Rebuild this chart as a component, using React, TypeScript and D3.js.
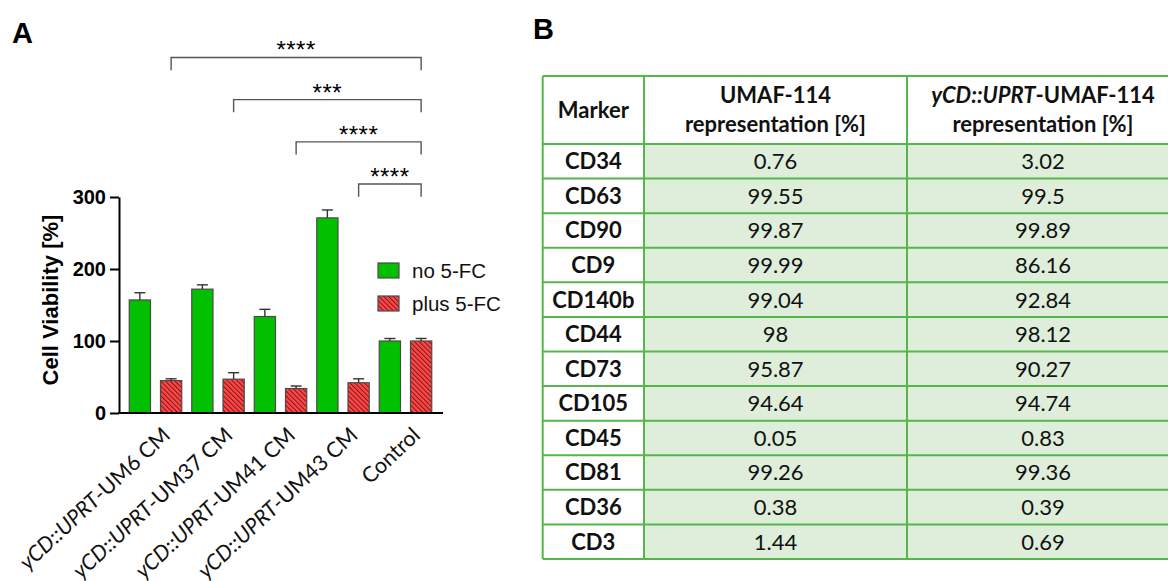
import * as d3 from "d3";
import { useEffect, useRef } from "react";

// panel A: cell viability
const categories = [
  "yCD::UPRT-UM6 CM",
  "yCD::UPRT-UM37 CM",
  "yCD::UPRT-UM41 CM",
  "yCD::UPRT-UM43 CM",
  "Control",
];
const seriesNames = ["no 5-FC", "plus 5-FC"];
const noFc = [157, 172, 134, 271, 100];
const noFcErr = [10, 6, 10, 11, 3.5];
const plusFc = [45, 47, 34, 42, 100];
const plusFcErr = [2.5, 9, 3.5, 5.5, 3.5];
const yTicks = [0, 100, 200, 300];
const sigFrom = [0, 1, 2, 3];
const sigLabels = ["****", "***", "****", "****"];

// panel B: marker table
const markers = ["CD34", "CD63", "CD90", "CD9", "CD140b", "CD44", "CD73", "CD105", "CD45", "CD81", "CD36", "CD3"];
const umafValues = [0.76, 99.55, 99.87, 99.99, 99.04, 98, 95.87, 94.64, 0.05, 99.26, 0.38, 1.44];
const ycdValues = [3.02, 99.5, 99.89, 86.16, 92.84, 98.12, 90.27, 94.74, 0.83, 99.36, 0.39, 0.69];

const arial = "'Liberation Sans', Arial, sans-serif";
const calibri = "Lato, 'Open Sans', sans-serif";

export default function App() {
  const ref = useRef<SVGSVGElement | null>(null);

  useEffect(() => {
    if (!ref.current) return;
    const svg = d3.select(ref.current);
    svg.selectAll("*").remove();

    const defs = svg.append("defs");
    const pat = defs
      .append("pattern")
      .attr("id", "hatch")
      .attr("patternUnits", "userSpaceOnUse")
      .attr("width", 3.4)
      .attr("height", 3.4)
      .attr("patternTransform", "rotate(-45)");
    pat.append("rect").attr("width", 3.4).attr("height", 3.4).attr("fill", "#ff4646");
    pat.append("line").attr("x1", 0.5).attr("x2", 0.5).attr("y1", 0).attr("y2", 3.4)
      .attr("stroke", "#6b1414").attr("stroke-width", 0.9);

    // ---------- panel A ----------
    const y = d3.scaleLinear().domain([0, 300]).range([413, 197]);
    const x0 = d3.scaleBand<string>().domain(categories).range([124.25, 436.75]).padding(0);
    const x1 = d3
      .scaleBand<string>()
      .domain(seriesNames)
      .range([0, x0.bandwidth()])
      .paddingInner(0.32)
      .paddingOuter(0.16);

    const series = [
      { name: seriesNames[0], values: noFc, errs: noFcErr, fill: "#00c000" },
      { name: seriesNames[1], values: plusFc, errs: plusFcErr, fill: "url(#hatch)" },
    ];

    const gA = svg.append("g");
    gA.append("text").attr("x", 12).attr("y", 43).text("A")
      .style("font-family", arial).style("font-weight", "bold").style("font-size", "29px");

    series.forEach((s) => {
      categories.forEach((c, i) => {
        const bx = x0(c)! + x1(s.name)!;
        const bw = x1.bandwidth();
        const v = s.values[i];
        gA.append("rect")
          .attr("x", bx).attr("y", y(v)).attr("width", bw).attr("height", y(0) - y(v))
          .attr("fill", s.fill).attr("stroke", "#4a4a4a").attr("stroke-width", 1.2);
        const cx = bx + bw / 2;
        const top = y(v + s.errs[i]);
        gA.append("line").attr("x1", cx).attr("x2", cx).attr("y1", y(v)).attr("y2", top)
          .attr("stroke", "#333").attr("stroke-width", 1.4);
        gA.append("line").attr("x1", cx - 5.5).attr("x2", cx + 5.5).attr("y1", top).attr("y2", top)
          .attr("stroke", "#333").attr("stroke-width", 1.4);
      });
    });

    // axes
    const yAxis = gA.append("g").attr("transform", "translate(119,0)")
      .call(d3.axisLeft(y).tickValues(yTicks).tickSize(9).tickSizeOuter(0).tickPadding(4));
    yAxis.select(".domain").attr("stroke", "#000").attr("stroke-width", 2);
    yAxis.selectAll(".tick line").attr("stroke", "#000").attr("stroke-width", 2);
    yAxis.selectAll(".tick text")
      .style("font-family", arial).style("font-weight", "bold").style("font-size", "20px").attr("fill", "#000");
    gA.append("line").attr("x1", 118).attr("x2", 443).attr("y1", y(0)).attr("y2", y(0))
      .attr("stroke", "#000").attr("stroke-width", 2);

    gA.append("text")
      .attr("transform", "translate(50,300) rotate(-90)")
      .attr("text-anchor", "middle").attr("dominant-baseline", "central")
      .style("font-family", arial).style("font-weight", "bold").style("font-size", "22px")
      .text("Cell Viability [%]");

    // x labels
    categories.forEach((c) => {
      const cx = x0(c)! + x0.bandwidth() / 2;
      const t = gA.append("text")
        .attr("transform", `translate(${cx + 16},${y(0) + 24}) rotate(-43)`)
        .attr("text-anchor", "end")
        .style("font-family", calibri).style("font-size", "21.5px").attr("fill", "#111");
      const k = c.indexOf("-");
      if (k > 0) {
        t.append("tspan").style("font-style", "italic").text(c.slice(0, k));
        t.append("tspan").text(c.slice(k));
      } else {
        t.text(c);
      }
    });

    // legend
    series.forEach((s, i) => {
      gA.append("rect").attr("x", 378).attr("y", 263 + i * 33).attr("width", 21).attr("height", 15)
        .attr("fill", s.fill).attr("stroke", "#4a4a4a").attr("stroke-width", 1.2);
      gA.append("text").attr("x", 412).attr("y", 278 + i * 33).text(s.name)
        .style("font-family", arial).style("font-size", "20.5px").attr("fill", "#111");
    });

    // significance brackets (red bar vs control red bar)
    const redCenter = (i: number) => x0(categories[i])! + x1(seriesNames[1])! + x1.bandwidth() / 2;
    const ctrl = redCenter(categories.length - 1);
    sigFrom.forEach((from, i) => {
      const level = 318 + (sigFrom.length - 1 - i) * 58.6;
      const ly = y(level);
      const xa = redCenter(from);
      gA.append("path")
        .attr("d", `M${xa},${ly + 12.7}V${ly}H${ctrl}V${ly + 12.7}`)
        .attr("fill", "none").attr("stroke", "#555").attr("stroke-width", 1.4);
      gA.append("text").attr("x", (xa + ctrl) / 2).attr("y", ly + 1)
        .attr("text-anchor", "middle")
        .style("font-family", arial).style("font-size", "24px").style("letter-spacing", "0.5px")
        .text(sigLabels[i]);
    });

    // ---------- panel B ----------
    const gB = svg.append("g");
    gB.append("text").attr("x", 533).attr("y", 39).text("B")
      .style("font-family", arial).style("font-weight", "bold").style("font-size", "29px");

    const colEdges = [542.7, 644, 907, 1179];
    const colCenter = (j: number) => (colEdges[j] + colEdges[j + 1]) / 2;
    const tableTop = 76;
    const headBottom = 144;
    const rowY = d3.scaleBand<string>().domain(markers).range([headBottom, 559]);
    const green = "#55b64c";
    const cellFill = "#dfeedb";

    gB.append("rect").attr("x", colEdges[1]).attr("y", headBottom)
      .attr("width", colEdges[3] - colEdges[1]).attr("height", 559 - headBottom).attr("fill", cellFill);

    const tStyle = (sel: any, bold: boolean) =>
      sel.style("font-family", calibri).style("font-size", "22px")
        .style("font-weight", bold ? "bold" : "normal").attr("fill", "#111").attr("text-anchor", "middle");

    // header
    tStyle(gB.append("text").attr("x", colCenter(0)).attr("y", 118).text("Marker"), true);
    tStyle(gB.append("text").attr("x", colCenter(1)).attr("y", 103).text("UMAF-114"), true);
    tStyle(gB.append("text").attr("x", colCenter(1)).attr("y", 132).text("representation [%]"), true);
    const h3 = tStyle(gB.append("text").attr("x", colCenter(2)).attr("y", 103), true);
    h3.append("tspan").style("font-style", "italic").text("yCD::UPRT");
    h3.append("tspan").text("-UMAF-114");
    tStyle(gB.append("text").attr("x", colCenter(2)).attr("y", 132).text("representation [%]"), true);

    markers.forEach((m, i) => {
      const cy = rowY(m)! + rowY.bandwidth() / 2;
      tStyle(gB.append("text").attr("x", colCenter(0)).attr("y", cy).attr("dy", "0.36em").text(m), true);
      tStyle(gB.append("text").attr("x", colCenter(1)).attr("y", cy).attr("dy", "0.36em").text(String(umafValues[i])), false);
      tStyle(gB.append("text").attr("x", colCenter(2)).attr("y", cy).attr("dy", "0.36em").text(String(ycdValues[i])), false);
    });

    // grid
    const grid = gB.append("g").attr("stroke", green).attr("stroke-width", 2).attr("fill", "none");
    const hLines = [tableTop, headBottom, ...markers.map((m) => rowY(m)! + rowY.bandwidth())];
    hLines.forEach((hy) => {
      grid.append("line").attr("x1", colEdges[0]).attr("x2", colEdges[3]).attr("y1", hy).attr("y2", hy);
    });
    colEdges.forEach((cx) => {
      grid.append("line").attr("x1", cx).attr("x2", cx).attr("y1", tableTop).attr("y2", 559);
    });
  }, []);

  return (
    <svg
      ref={ref}
      width={1168}
      height={581}
      style={{ position: "absolute", left: 0, top: 0, background: "#fff" }}
    />
  );
}
